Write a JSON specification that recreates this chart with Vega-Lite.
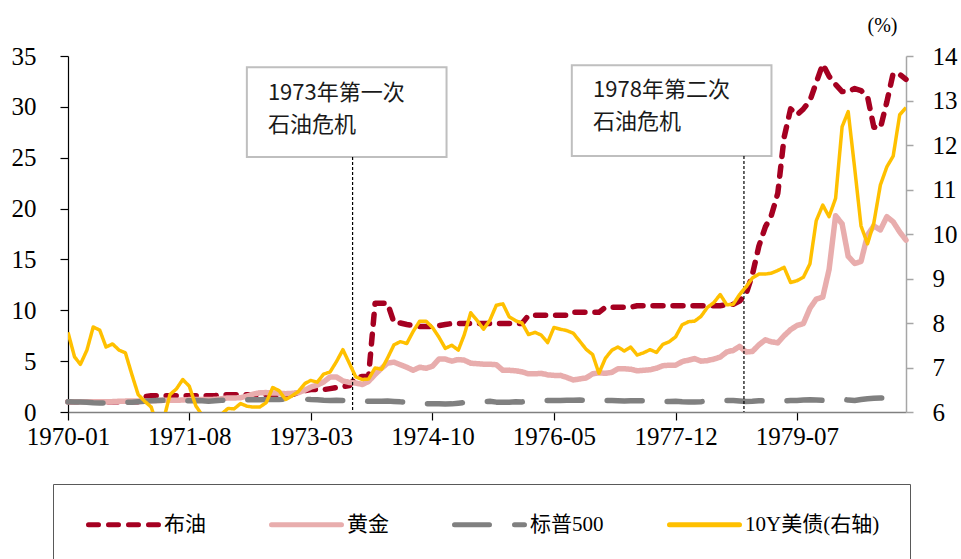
{
"$schema": "https://vega.github.io/schema/vega-lite/v6.json",
"autosize": {"type": "none"},
"width": 838, "height": 356,
"padding": {"left": 68, "top": 56, "right": 55, "bottom": 147},
"background": "white",
"datasets": {"d": [
{"m":"1970-01-01","oil":1.0,"gold":1.0,"spx":1.0,"ust":7.79},
{"m":"1970-02-01","oil":1.0,"gold":1.0,"spx":0.98,"ust":7.24},
{"m":"1970-03-01","oil":1.0,"gold":1.0,"spx":0.98,"ust":7.07},
{"m":"1970-04-01","oil":1.0,"gold":1.02,"spx":0.96,"ust":7.39},
{"m":"1970-05-01","oil":1.0,"gold":1.02,"spx":0.9,"ust":7.91},
{"m":"1970-06-01","oil":1.0,"gold":1.0,"spx":0.88,"ust":7.84},
{"m":"1970-07-01","oil":1.0,"gold":1.02,"spx":0.88,"ust":7.46},
{"m":"1970-08-01","oil":1.0,"gold":1.02,"spx":0.9,"ust":7.53},
{"m":"1970-09-01","oil":1.0,"gold":1.05,"spx":0.93,"ust":7.39},
{"m":"1970-10-01","oil":1.0,"gold":1.07,"spx":0.95,"ust":7.33},
{"m":"1970-11-01","oil":1.0,"gold":1.07,"spx":0.95,"ust":6.84},
{"m":"1970-12-01","oil":1.0,"gold":1.07,"spx":1.0,"ust":6.39},
{"m":"1971-01-01","oil":1.5,"gold":1.08,"spx":1.05,"ust":6.24},
{"m":"1971-02-01","oil":1.6,"gold":1.1,"spx":1.1,"ust":6.11},
{"m":"1971-03-01","oil":1.6,"gold":1.12,"spx":1.12,"ust":5.7},
{"m":"1971-04-01","oil":1.6,"gold":1.15,"spx":1.15,"ust":5.83},
{"m":"1971-05-01","oil":1.6,"gold":1.16,"spx":1.15,"ust":6.39},
{"m":"1971-06-01","oil":1.6,"gold":1.15,"spx":1.12,"ust":6.52},
{"m":"1971-07-01","oil":1.6,"gold":1.18,"spx":1.12,"ust":6.73},
{"m":"1971-08-01","oil":1.6,"gold":1.22,"spx":1.1,"ust":6.58},
{"m":"1971-09-01","oil":1.6,"gold":1.22,"spx":1.12,"ust":6.14},
{"m":"1971-10-01","oil":1.6,"gold":1.22,"spx":1.1,"ust":5.93},
{"m":"1971-11-01","oil":1.6,"gold":1.22,"spx":1.05,"ust":5.81},
{"m":"1971-12-01","oil":1.6,"gold":1.25,"spx":1.1,"ust":5.93},
{"m":"1972-01-01","oil":1.7,"gold":1.3,"spx":1.15,"ust":5.95},
{"m":"1972-02-01","oil":1.7,"gold":1.38,"spx":1.18,"ust":6.08},
{"m":"1972-03-01","oil":1.7,"gold":1.38,"spx":1.2,"ust":6.07},
{"m":"1972-04-01","oil":1.7,"gold":1.4,"spx":1.22,"ust":6.19},
{"m":"1972-05-01","oil":1.7,"gold":1.56,"spx":1.2,"ust":6.13},
{"m":"1972-06-01","oil":1.7,"gold":1.77,"spx":1.21,"ust":6.11},
{"m":"1972-07-01","oil":1.7,"gold":1.88,"spx":1.2,"ust":6.11},
{"m":"1972-08-01","oil":1.7,"gold":1.91,"spx":1.22,"ust":6.21},
{"m":"1972-09-01","oil":1.7,"gold":1.87,"spx":1.22,"ust":6.55},
{"m":"1972-10-01","oil":1.7,"gold":1.85,"spx":1.22,"ust":6.48},
{"m":"1972-11-01","oil":1.7,"gold":1.8,"spx":1.28,"ust":6.28},
{"m":"1972-12-01","oil":1.7,"gold":1.83,"spx":1.3,"ust":6.36},
{"m":"1973-01-01","oil":1.9,"gold":1.9,"spx":1.3,"ust":6.46},
{"m":"1973-02-01","oil":2.1,"gold":2.15,"spx":1.26,"ust":6.64},
{"m":"1973-03-01","oil":2.2,"gold":2.45,"spx":1.22,"ust":6.71},
{"m":"1973-04-01","oil":2.2,"gold":2.65,"spx":1.2,"ust":6.67},
{"m":"1973-05-01","oil":2.2,"gold":2.95,"spx":1.15,"ust":6.85},
{"m":"1973-06-01","oil":2.3,"gold":3.45,"spx":1.14,"ust":6.9},
{"m":"1973-07-01","oil":2.4,"gold":3.45,"spx":1.16,"ust":7.13},
{"m":"1973-08-01","oil":2.5,"gold":3.05,"spx":1.14,"ust":7.4},
{"m":"1973-09-01","oil":2.6,"gold":2.9,"spx":1.15,"ust":7.09},
{"m":"1973-10-01","oil":3.4,"gold":2.85,"spx":1.18,"ust":6.79},
{"m":"1973-11-01","oil":3.5,"gold":2.7,"spx":1.12,"ust":6.73},
{"m":"1973-12-01","oil":3.5,"gold":3.0,"spx":1.05,"ust":6.74},
{"m":"1974-01-01","oil":10.7,"gold":3.7,"spx":1.06,"ust":6.99},
{"m":"1974-02-01","oil":10.7,"gold":4.3,"spx":1.05,"ust":6.96},
{"m":"1974-03-01","oil":10.7,"gold":4.8,"spx":1.08,"ust":7.21},
{"m":"1974-04-01","oil":8.8,"gold":4.9,"spx":1.04,"ust":7.51},
{"m":"1974-05-01","oil":8.75,"gold":4.65,"spx":1.0,"ust":7.58},
{"m":"1974-06-01","oil":8.6,"gold":4.4,"spx":0.98,"ust":7.54},
{"m":"1974-07-01","oil":8.5,"gold":4.1,"spx":0.92,"ust":7.81},
{"m":"1974-08-01","oil":8.4,"gold":4.4,"spx":0.86,"ust":8.04},
{"m":"1974-09-01","oil":8.4,"gold":4.3,"spx":0.8,"ust":8.04},
{"m":"1974-10-01","oil":8.4,"gold":4.5,"spx":0.8,"ust":7.9},
{"m":"1974-11-01","oil":8.5,"gold":5.2,"spx":0.82,"ust":7.68},
{"m":"1974-12-01","oil":8.6,"gold":5.2,"spx":0.78,"ust":7.43},
{"m":"1975-01-01","oil":8.7,"gold":5.0,"spx":0.8,"ust":7.5},
{"m":"1975-02-01","oil":8.7,"gold":5.15,"spx":0.87,"ust":7.39},
{"m":"1975-03-01","oil":8.7,"gold":5.1,"spx":0.92,"ust":7.73},
{"m":"1975-04-01","oil":8.7,"gold":4.8,"spx":0.92,"ust":8.23},
{"m":"1975-05-01","oil":8.7,"gold":4.75,"spx":0.99,"ust":8.06},
{"m":"1975-06-01","oil":8.7,"gold":4.7,"spx":1.03,"ust":7.86},
{"m":"1975-07-01","oil":8.7,"gold":4.7,"spx":1.05,"ust":8.06},
{"m":"1975-08-01","oil":8.7,"gold":4.65,"spx":0.97,"ust":8.4},
{"m":"1975-09-01","oil":8.7,"gold":4.1,"spx":0.95,"ust":8.43},
{"m":"1975-10-01","oil":8.7,"gold":4.1,"spx":0.97,"ust":8.14},
{"m":"1975-11-01","oil":8.7,"gold":4.05,"spx":1.0,"ust":8.05},
{"m":"1975-12-01","oil":8.7,"gold":3.95,"spx":0.99,"ust":8.0},
{"m":"1976-01-01","oil":9.5,"gold":3.75,"spx":1.08,"ust":7.74},
{"m":"1976-02-01","oil":9.5,"gold":3.75,"spx":1.12,"ust":7.79},
{"m":"1976-03-01","oil":9.5,"gold":3.8,"spx":1.13,"ust":7.73},
{"m":"1976-04-01","oil":9.5,"gold":3.65,"spx":1.13,"ust":7.56},
{"m":"1976-05-01","oil":9.5,"gold":3.6,"spx":1.12,"ust":7.9},
{"m":"1976-06-01","oil":9.5,"gold":3.6,"spx":1.13,"ust":7.86},
{"m":"1976-07-01","oil":9.5,"gold":3.4,"spx":1.16,"ust":7.83},
{"m":"1976-08-01","oil":9.8,"gold":3.15,"spx":1.15,"ust":7.77},
{"m":"1976-09-01","oil":9.8,"gold":3.25,"spx":1.17,"ust":7.59},
{"m":"1976-10-01","oil":9.8,"gold":3.35,"spx":1.14,"ust":7.41},
{"m":"1976-11-01","oil":9.8,"gold":3.75,"spx":1.13,"ust":7.29},
{"m":"1976-12-01","oil":9.8,"gold":3.85,"spx":1.16,"ust":6.87},
{"m":"1977-01-01","oil":10.3,"gold":3.8,"spx":1.14,"ust":7.21},
{"m":"1977-02-01","oil":10.3,"gold":3.9,"spx":1.12,"ust":7.39},
{"m":"1977-03-01","oil":10.3,"gold":4.25,"spx":1.11,"ust":7.46},
{"m":"1977-04-01","oil":10.3,"gold":4.25,"spx":1.09,"ust":7.37},
{"m":"1977-05-01","oil":10.3,"gold":4.2,"spx":1.1,"ust":7.46},
{"m":"1977-06-01","oil":10.45,"gold":4.05,"spx":1.1,"ust":7.28},
{"m":"1977-07-01","oil":10.45,"gold":4.1,"spx":1.11,"ust":7.33},
{"m":"1977-08-01","oil":10.45,"gold":4.15,"spx":1.08,"ust":7.4},
{"m":"1977-09-01","oil":10.45,"gold":4.3,"spx":1.07,"ust":7.34},
{"m":"1977-10-01","oil":10.45,"gold":4.55,"spx":1.04,"ust":7.52},
{"m":"1977-11-01","oil":10.45,"gold":4.6,"spx":1.04,"ust":7.58},
{"m":"1977-12-01","oil":10.45,"gold":4.6,"spx":1.05,"ust":7.69},
{"m":"1978-01-01","oil":10.45,"gold":4.95,"spx":1.0,"ust":7.96},
{"m":"1978-02-01","oil":10.45,"gold":5.1,"spx":0.98,"ust":8.03},
{"m":"1978-03-01","oil":10.45,"gold":5.25,"spx":0.98,"ust":8.04},
{"m":"1978-04-01","oil":10.45,"gold":5.0,"spx":1.01,"ust":8.15},
{"m":"1978-05-01","oil":10.45,"gold":5.05,"spx":1.07,"ust":8.35},
{"m":"1978-06-01","oil":10.45,"gold":5.2,"spx":1.07,"ust":8.46},
{"m":"1978-07-01","oil":10.45,"gold":5.4,"spx":1.06,"ust":8.64},
{"m":"1978-08-01","oil":10.55,"gold":5.9,"spx":1.13,"ust":8.41},
{"m":"1978-09-01","oil":10.6,"gold":6.05,"spx":1.13,"ust":8.42},
{"m":"1978-10-01","oil":10.9,"gold":6.45,"spx":1.08,"ust":8.64},
{"m":"1978-11-01","oil":11.6,"gold":5.9,"spx":1.04,"ust":8.81},
{"m":"1978-12-01","oil":13.5,"gold":5.95,"spx":1.06,"ust":9.01},
{"m":"1979-01-01","oil":16.3,"gold":6.6,"spx":1.1,"ust":9.1},
{"m":"1979-02-01","oil":18.2,"gold":7.1,"spx":1.09,"ust":9.1},
{"m":"1979-03-01","oil":19.3,"gold":6.9,"spx":1.1,"ust":9.12},
{"m":"1979-04-01","oil":21.5,"gold":6.8,"spx":1.12,"ust":9.18},
{"m":"1979-05-01","oil":27.0,"gold":7.5,"spx":1.1,"ust":9.25},
{"m":"1979-06-01","oil":29.8,"gold":8.1,"spx":1.12,"ust":8.91},
{"m":"1979-07-01","oil":29.2,"gold":8.5,"spx":1.14,"ust":8.95},
{"m":"1979-08-01","oil":29.8,"gold":8.7,"spx":1.18,"ust":9.03},
{"m":"1979-09-01","oil":30.6,"gold":10.2,"spx":1.2,"ust":9.33},
{"m":"1979-10-01","oil":32.4,"gold":11.1,"spx":1.17,"ust":10.3},
{"m":"1979-11-01","oil":34.2,"gold":11.3,"spx":1.14,"ust":10.65},
{"m":"1979-12-01","oil":33.0,"gold":14.0,"spx":1.18,"ust":10.39},
{"m":"1980-01-01","oil":32.2,"gold":19.3,"spx":1.24,"ust":10.8},
{"m":"1980-02-01","oil":31.5,"gold":18.5,"spx":1.27,"ust":12.41},
{"m":"1980-03-01","oil":31.5,"gold":15.3,"spx":1.17,"ust":12.75},
{"m":"1980-04-01","oil":31.8,"gold":14.6,"spx":1.14,"ust":11.47},
{"m":"1980-05-01","oil":31.6,"gold":14.8,"spx":1.22,"ust":10.18},
{"m":"1980-06-01","oil":31.0,"gold":17.4,"spx":1.3,"ust":9.78},
{"m":"1980-07-01","oil":28.0,"gold":18.3,"spx":1.35,"ust":10.25},
{"m":"1980-08-01","oil":27.9,"gold":17.9,"spx":1.38,"ust":11.1},
{"m":"1980-09-01","oil":30.5,"gold":19.2,"spx":1.4,"ust":11.51},
{"m":"1980-10-01","oil":33.3,"gold":18.7,"spx":1.42,"ust":11.75},
{"m":"1980-11-01","oil":33.2,"gold":17.7,"spx":1.5,"ust":12.68},
{"m":"1980-12-01","oil":32.7,"gold":16.9,"spx":1.5,"ust":12.84}
]},
"config": {
  "view": {"stroke": null},
  "axisX": {"domainColor": "#808080", "domainWidth": 1.5, "tickColor": "#000000", "tickWidth": 1.2, "tickSize": 8, "labelFont": "Liberation Serif", "labelFontSize": 25, "labelColor": "#000000", "labelPadding": 4, "grid": false, "labelFlush": false, "labelOverlap": false},
  "axisLeft": {"domainColor": "#000000", "domainWidth": 1.2, "tickColor": "#000000", "tickWidth": 1.2, "tickSize": 8, "labelFont": "Liberation Serif", "labelFontSize": 25, "labelColor": "#000000", "labelPadding": 24, "grid": false},
  "axisRight": {"domainColor": "#a6a6a6", "domainWidth": 1.5, "tickColor": "#a6a6a6", "tickWidth": 1.5, "tickSize": 7, "labelFont": "Liberation Serif", "labelFontSize": 25, "labelColor": "#000000", "labelPadding": 19, "grid": false},
  "legend": {"title": null, "orient": "none", "legendX": -15, "legendY": 428, "direction": "horizontal", "columns": 4,
             "padding": 30, "strokeColor": "#595959", "fillColor": "#ffffff",
             "symbolType": "M-7,0H7", "symbolSize": 100, "symbolStrokeWidth": 5, "symbolOffset": 30,
             "labelOffset": 30, "columnPadding": 55,
             "labelFont": "Liberation Serif, Noto Sans CJK SC", "labelFontSize": 21, "labelColor": "#000000", "labelLimit": 400}
},
"layer": [
  {
    "layer": [
      {
        "data": {"values": [{}]},
        "mark": {"type": "rect", "fill": "#ffffff", "stroke": "#bfbfbf", "strokeWidth": 2},
        "encoding": {
          "x": {"datum": {"year": 1972, "month": 5, "date": 1, "utc": true}, "type": "temporal"},
          "x2": {"datum": {"year": 1974, "month": 12, "date": 7, "utc": true}},
          "y": {"datum": 33.9, "type": "quantitative"},
          "y2": {"datum": 25.07}
        }
      },
      {
        "data": {"values": [{}]},
        "mark": {"type": "rect", "fill": "#ffffff", "stroke": "#bfbfbf", "strokeWidth": 2},
        "encoding": {
          "x": {"datum": {"year": 1976, "month": 7, "date": 25, "utc": true}, "type": "temporal"},
          "x2": {"datum": {"year": 1979, "month": 3, "date": 2, "utc": true}},
          "y": {"datum": 34.1, "type": "quantitative"},
          "y2": {"datum": 25.17}
        }
      },
      {
        "data": {"name": "d"},
        "transform": [{"fold": ["oil", "gold", "spx"], "as": ["key", "value"]}],
        "mark": {"type": "line", "strokeWidth": 5.5, "strokeCap": "round", "strokeJoin": "round"},
        "encoding": {
          "x": {"field": "m", "type": "temporal",
                "scale": {"type": "utc", "domain": [{"year": 1970, "month": 1, "date": 1, "utc": true}, {"year": 1980, "month": 12, "date": 1, "utc": true}]},
                "axis": {"title": null, "format": "%Y-%m", "values": [
                  {"year": 1970, "month": 1, "date": 1, "utc": true},
                  {"year": 1971, "month": 8, "date": 1, "utc": true},
                  {"year": 1973, "month": 3, "date": 1, "utc": true},
                  {"year": 1974, "month": 10, "date": 1, "utc": true},
                  {"year": 1976, "month": 5, "date": 1, "utc": true},
                  {"year": 1977, "month": 12, "date": 1, "utc": true},
                  {"year": 1979, "month": 7, "date": 1, "utc": true}]}},
          "y": {"field": "value", "type": "quantitative", "scale": {"domain": [0, 35], "nice": false},
                "axis": {"title": null, "orient": "left", "values": [0, 5, 10, 15, 20, 25, 30, 35]}},
          "color": {"field": "key", "type": "nominal",
                    "scale": {"domain": ["oil", "gold", "spx", "ust"], "range": ["#A50021", "#E8ADAD", "#808080", "#FFC000"]},
                    "legend": {"labelExpr": "{'oil':'布油','gold':'黄金','spx':'标普500','ust':'10Y美债(右轴)'}[datum.value]",
                               "encode": {"symbols": {"update": {"strokeCap": {"value": "round"}}}}}},
          "strokeDash": {"field": "key", "type": "nominal",
                         "scale": {"domain": ["oil", "gold", "spx", "ust"], "range": [[10, 10], [1, 0], [35, 25], [1, 0]]},
                         "legend": {"labelExpr": "{'oil':'布油','gold':'黄金','spx':'标普500','ust':'10Y美债(右轴)'}[datum.value]",
                               "encode": {"symbols": {"update": {"strokeCap": {"value": "round"}}}}}}
        }
      },
      {
        "data": {"values": [{}]},
        "mark": {"type": "rule", "color": "#000000", "strokeWidth": 1.2, "strokeDash": [3, 2]},
        "encoding": {
          "x": {"datum": {"year": 1973, "month": 9, "date": 16, "utc": true}, "type": "temporal"},
          "y": {"datum": 25.07, "type": "quantitative"},
          "y2": {"datum": 0}
        }
      },
      {
        "data": {"values": [{}]},
        "mark": {"type": "rule", "color": "#000000", "strokeWidth": 1.2, "strokeDash": [3, 2]},
        "encoding": {
          "x": {"datum": {"year": 1978, "month": 10, "date": 22, "utc": true}, "type": "temporal"},
          "y": {"datum": 25.17, "type": "quantitative"},
          "y2": {"datum": 0}
        }
      },
      {
        "data": {"values": [{}]},
        "mark": {"type": "text", "text": ["1973年第一次", "石油危机"], "align": "left", "baseline": "top", "lineHeight": 32,
                 "font": "Noto Sans CJK SC", "fontSize": 22, "color": "#1a1a1a"},
        "encoding": {
          "x": {"datum": {"year": 1972, "month": 8, "date": 9, "utc": true}, "type": "temporal"},
          "y": {"datum": 32.35, "type": "quantitative"}
        }
      },
      {
        "data": {"values": [{}]},
        "mark": {"type": "text", "text": ["1978年第二次", "石油危机"], "align": "left", "baseline": "top", "lineHeight": 32,
                 "font": "Noto Sans CJK SC", "fontSize": 22, "color": "#1a1a1a"},
        "encoding": {
          "x": {"datum": {"year": 1976, "month": 11, "date": 3, "utc": true}, "type": "temporal"},
          "y": {"datum": 32.64, "type": "quantitative"}
        }
      }
    ]
  },
  {
    "data": {"name": "d"},
    "transform": [{"fold": ["ust"], "as": ["key", "value"]}],
    "mark": {"type": "line", "strokeWidth": 3.5, "strokeJoin": "round", "clip": true},
    "encoding": {
      "x": {"field": "m", "type": "temporal"},
      "y": {"field": "value", "type": "quantitative", "scale": {"domain": [6, 14], "nice": false},
            "axis": {"orient": "right", "values": [6, 7, 8, 9, 10, 11, 12, 13, 14], "title": "(%)", "titleAngle": 0, "titleX": -24, "titleY": -31,
                     "titleAlign": "center", "titleBaseline": "middle", "titleFont": "Liberation Serif", "titleFontSize": 20,
                     "titleFontWeight": "normal", "titleColor": "#000000"}},
      "color": {"field": "key", "type": "nominal"},
      "strokeDash": {"field": "key", "type": "nominal"}
    }
  }
],
"resolve": {"scale": {"y": "independent"}}
}
